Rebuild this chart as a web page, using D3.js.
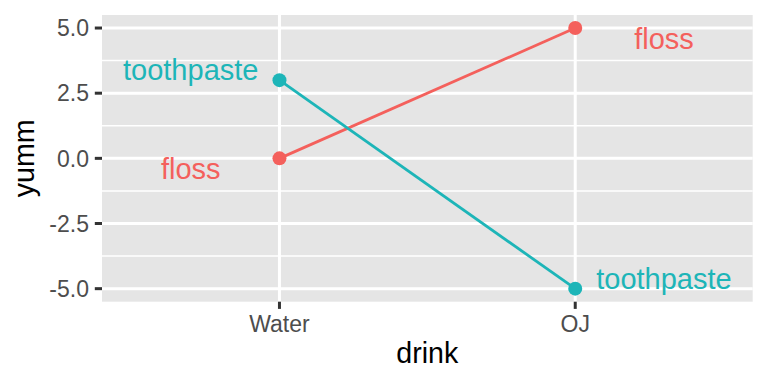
<!DOCTYPE html>
<html>
<head>
<meta charset="utf-8">
<script src="https://cdn.jsdelivr.net/npm/d3@7"></script>
<style>
  html, body { margin: 0; padding: 0; background: #fff; }
  svg { display: block; font-family: "Liberation Sans", Arial, sans-serif; }
</style>
</head>
<body>
<svg id="chart" width="768" height="384"></svg>
<script>
// ---- data ----
const drinks = ["Water", "OJ"];
const series = ["floss", "toothpaste"];
const flossValues = [0, 5];
const toothpasteValues = [3, -5];
const yTicks = [-5, -2.5, 0, 2.5, 5];
const yTickLabels = ["-5.0", "-2.5", "0.0", "2.5", "5.0"];
const yMinorTicks = [-3.75, -1.25, 1.25, 3.75];
const xTitle = "drink";
const yTitle = "yumm";

// ---- styles ----
const colors = { floss: "#F4605C", toothpaste: "#1DB5B8" };
const labelNudgeY = { floss: -0.4, toothpaste: 0.4 };
const labelNudgeX = 0.3; // in category units, pointing outward

const panel = { left: 102, top: 15, right: 752.7, bottom: 301.7 };
const svg = d3.select("#chart");

// scales: discrete x with ggplot expansion 0.6, continuous y with 5% expansion
const xIndex = d3.scaleLinear().domain([0.4, drinks.length + 0.6]).range([panel.left, panel.right]);
const x = d => xIndex(drinks.indexOf(d) + 1);
const yExtent = d3.extent(flossValues.concat(toothpasteValues));
const pad = (yExtent[1] - yExtent[0]) * 0.05;
const y = d3.scaleLinear().domain([yExtent[0] - pad, yExtent[1] + pad]).range([panel.bottom, panel.top]);

// panel background
svg.append("rect")
  .attr("x", panel.left).attr("y", panel.top)
  .attr("width", panel.right - panel.left).attr("height", panel.bottom - panel.top)
  .attr("fill", "#E5E5E5");

// minor grid
svg.append("g").selectAll("line").data(yMinorTicks).join("line")
  .attr("x1", panel.left).attr("x2", panel.right)
  .attr("y1", d => y(d)).attr("y2", d => y(d))
  .attr("stroke", "#fff").attr("stroke-width", 1.5);

// major grid
svg.append("g").selectAll("line").data(yTicks).join("line")
  .attr("x1", panel.left).attr("x2", panel.right)
  .attr("y1", d => y(d)).attr("y2", d => y(d))
  .attr("stroke", "#fff").attr("stroke-width", 3);
svg.append("g").selectAll("line").data(drinks).join("line")
  .attr("x1", d => x(d)).attr("x2", d => x(d))
  .attr("y1", panel.top).attr("y2", panel.bottom)
  .attr("stroke", "#fff").attr("stroke-width", 3);

// data
const data = series.map(s => ({
  name: s,
  values: (s === "floss" ? flossValues : toothpasteValues).map((v, i) => ({ drink: drinks[i], i, v }))
}));

const line = d3.line().x(d => x(d.drink)).y(d => y(d.v));
svg.append("g").selectAll("path").data(data).join("path")
  .attr("d", d => line(d.values))
  .attr("fill", "none")
  .attr("stroke", d => colors[d.name])
  .attr("stroke-width", 2.8);

data.forEach(s => {
  svg.append("g").selectAll("circle").data(s.values).join("circle")
    .attr("cx", d => x(d.drink)).attr("cy", d => y(d.v)).attr("r", 7)
    .attr("fill", colors[s.name]);
  svg.append("g").selectAll("text").data(s.values).join("text")
    .attr("x", d => xIndex(d.i + 1 + (d.i === 0 ? -labelNudgeX : labelNudgeX)))
    .attr("y", d => y(d.v + labelNudgeY[s.name]))
    .attr("dy", "0.358em")
    .attr("text-anchor", "middle")
    .attr("font-size", 29)
    .attr("fill", colors[s.name])
    .text(s.name);
});

// y axis ticks and labels
const yAxis = svg.append("g");
yAxis.selectAll("line").data(yTicks).join("line")
  .attr("x1", panel.left - 7.2).attr("x2", panel.left)
  .attr("y1", d => y(d)).attr("y2", d => y(d))
  .attr("stroke", "#333333").attr("stroke-width", 3);
yAxis.selectAll("text").data(yTicks).join("text")
  .attr("x", panel.left - 7.2 - 5.8)
  .attr("y", d => y(d))
  .attr("dy", "0.358em")
  .attr("text-anchor", "end")
  .attr("font-size", 23)
  .attr("fill", "#4D4D4D")
  .text((d, i) => yTickLabels[i]);

// x axis ticks and labels
const xAxis = svg.append("g");
xAxis.selectAll("line").data(drinks).join("line")
  .attr("x1", d => x(d)).attr("x2", d => x(d))
  .attr("y1", panel.bottom).attr("y2", panel.bottom + 7.2)
  .attr("stroke", "#333333").attr("stroke-width", 3);
xAxis.selectAll("text").data(drinks).join("text")
  .attr("x", d => x(d))
  .attr("y", 331.5)
  .attr("text-anchor", "middle")
  .attr("font-size", 23)
  .attr("fill", "#4D4D4D")
  .text(d => d);

// axis titles
svg.append("text")
  .attr("x", (panel.left + panel.right) / 2).attr("y", 363)
  .attr("text-anchor", "middle").attr("font-size", 28.6).attr("fill", "#000")
  .text(xTitle);
svg.append("text")
  .attr("transform", `translate(34,${(panel.top + panel.bottom) / 2}) rotate(-90)`)
  .attr("text-anchor", "middle").attr("font-size", 28.6).attr("fill", "#000")
  .text(yTitle);
</script>
</body>
</html>
